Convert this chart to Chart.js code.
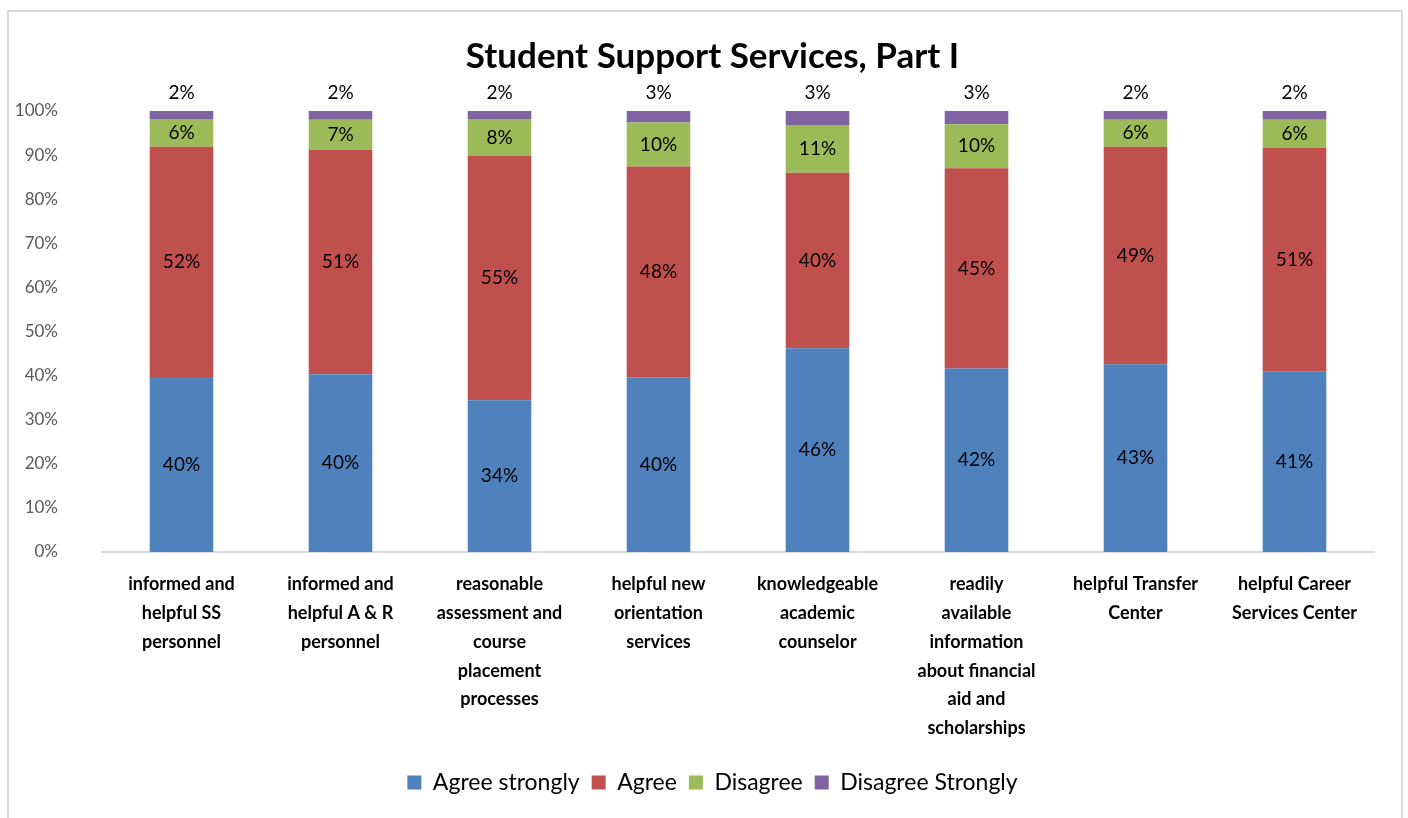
<!DOCTYPE html>
<html>
<head>
<meta charset="utf-8">
<script src="https://cdn.jsdelivr.net/npm/chart.js@4.4.1/dist/chart.umd.min.js"></script>
<style>
  body { margin: 0; background: #fff; }
  #box { position: absolute; left: 7px; top: 10px; width: 1392px; height: 816px; border: 2px solid #d9d9d9; }
  #box canvas { display: block; }
</style>
</head>
<body>
<div id="box"><canvas id="myChart" width="1392" height="806"></canvas></div>
<script>
// categories (multi-line as in the original axis)
var categories = [
  ["informed and", "helpful SS", "personnel"],
  ["informed and", "helpful A & R", "personnel"],
  ["reasonable", "assessment and", "course", "placement", "processes"],
  ["helpful new", "orientation", "services"],
  ["knowledgeable", "academic", "counselor"],
  ["readily", "available", "information", "about financial", "aid and", "scholarships"],
  ["helpful Transfer", "Center"],
  ["helpful Career", "Services Center"]
];

// percentages per series
var agreeStrongly    = [39.7, 40.3, 34.4, 39.6, 46.2, 41.6, 42.6, 41.0];
var agree            = [52.2, 50.9, 55.4, 47.8, 39.8, 45.4, 49.3, 50.6];
var disagree         = [6.3, 6.8, 8.4, 10.0, 10.8, 10.0, 6.1, 6.4];
var disagreeStrongly = [1.8, 2.0, 1.8, 2.6, 3.2, 3.0, 2.0, 2.0];

var yTicks = [0, 10, 20, 30, 40, 50, 60, 70, 80, 90, 100];

var font = "Lato";

// draws the percent labels on each segment (top series goes above the bar)
var segLabels = {
  id: "segLabels",
  afterDatasetsDraw: function(chart) {
    var c = chart.ctx;
    c.save();
    c.font = "19px " + font;
    c.fillStyle = "#000";
    c.textAlign = "center";
    c.textBaseline = "middle";
    chart.data.datasets.forEach(function(ds, i) {
      var meta = chart.getDatasetMeta(i);
      meta.data.forEach(function(bar, j) {
        var txt = Math.round(ds.data[j]) + "%";
        if (i == chart.data.datasets.length - 1) {
          c.fillText(txt, bar.x, bar.y - 18);
        } else {
          c.fillText(txt, bar.x, (bar.y + bar.base) / 2);
        }
      });
    });
    // y tick labels, drawn here so they are not clipped by the narrow axis box
    var ys = chart.scales.y;
    c.font = "17px " + font;
    c.fillStyle = "#595959";
    c.textAlign = "right";
    yTicks.forEach(function(v) {
      c.fillText(v + "%", ys.right - 44, ys.getPixelForValue(v));
    });
    c.restore();
  }
};

var ctx = document.getElementById("myChart").getContext("2d");
var myChart = new Chart(ctx, {
  type: "bar",
  data: {
    labels: categories,
    datasets: [
      { label: "Agree strongly", data: agreeStrongly, backgroundColor: "#4F81BD" },
      { label: "Agree", data: agree, backgroundColor: "#C0504D" },
      { label: "Disagree", data: disagree, backgroundColor: "#9BBB59" },
      { label: "Disagree Strongly", data: disagreeStrongly, backgroundColor: "#8064A2" }
    ]
  },
  plugins: [segLabels],
  options: {
    responsive: false,
    animation: false,
    layout: { padding: { left: 42, right: 27, top: 0, bottom: 14 } },
    datasets: { bar: { categoryPercentage: 1, barPercentage: 0.4 } },
    plugins: {
      title: {
        display: true,
        text: "Student Support Services, Part I",
        color: "#000",
        font: { family: font, size: 35, weight: "bold", lineHeight: 1.2 },
        padding: { top: 24, bottom: 33 }
      },
      legend: {
        position: "bottom",
        labels: {
          color: "#000",
          font: { family: font, size: 23 },
          boxWidth: 14,
          boxHeight: 14,
          padding: 12
        }
      },
      tooltip: { enabled: false }
    },
    scales: {
      x: {
        stacked: true,
        grid: { display: false },
        border: { color: "#d9d9d9", width: 2 },
        ticks: {
          color: "#000",
          font: { family: font, size: 18, weight: "bold", lineHeight: 1.6 },
          maxRotation: 0,
          autoSkip: false,
          padding: 10
        },
        afterFit: function(scale) { scale.height = 207; }
      },
      y: {
        stacked: true,
        min: 0,
        max: 100,
        grid: { display: false },
        border: { display: false },
        ticks: { display: false, stepSize: 10 },
        afterFit: function(scale) { scale.width = 51; }
      }
    }
  }
});
</script>
</body>
</html>
